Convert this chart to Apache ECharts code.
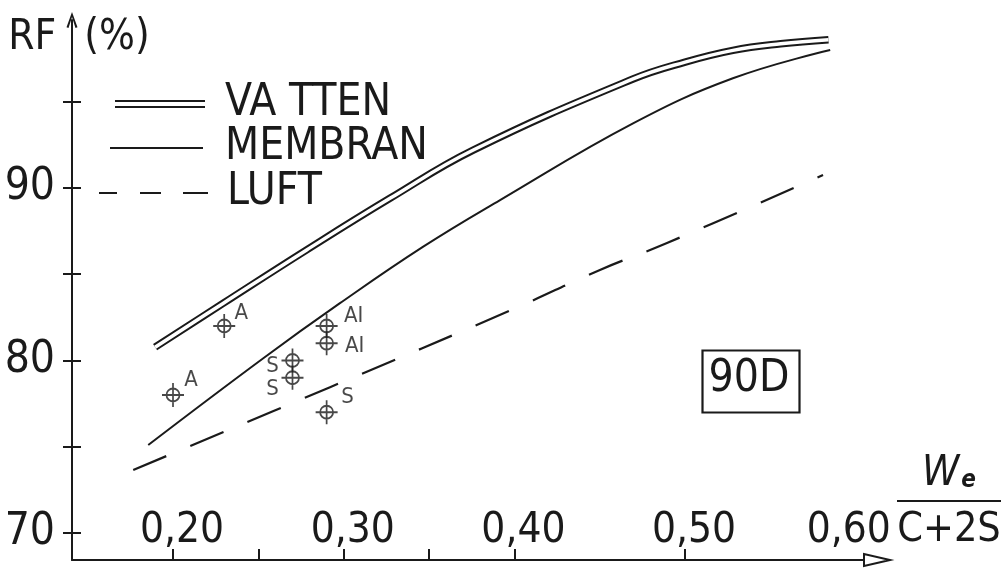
<!DOCTYPE html>
<html>
<head>
<meta charset="utf-8">
<script src="https://cdn.jsdelivr.net/npm/echarts@6.0.0/dist/echarts.min.js"></script>
<style>
html,body{margin:0;padding:0;background:#fff;}
#chart{width:1007px;height:569px;}
</style>
</head>
<body>
<div id="chart"></div>
<script>
// ---- data ----
const vattenX = [0.1895, 0.2295, 0.2783, 0.3271, 0.3759, 0.4695, 0.500, 0.528, 0.556, 0.584];
const vattenY = [80.77, 83.32, 86.41, 89.40, 92.20, 96.32, 97.30, 97.98, 98.36, 98.60];

const membranX = [0.1855, 0.2529, 0.2978, 0.3466, 0.3916, 0.4695, 0.528, 0.585];
const membranY = [75.10, 80.13, 83.32, 86.60, 89.30, 93.75, 96.36, 98.00];

const luftX = [0.1767, 0.292, 0.3992, 0.4501, 0.4894, 0.5808];
const luftY = [73.65, 78.45, 82.97, 85.25, 86.81, 90.75];

const pointX = [0.20, 0.23, 0.29, 0.29, 0.27, 0.27, 0.29];
const pointY = [78, 82, 82, 81, 80, 79, 77];
const pointLabels = ['A', 'A', 'AI', 'AI', 'S', 'S', 'S'];

const xTickValues = [0.20, 0.25, 0.30, 0.35, 0.40, 0.50];
const xLabelValues = [0.20, 0.30, 0.40, 0.50, 0.60];
const yTickValues = [70, 75, 80, 85, 90, 95];
const yLabelValues = [70, 80, 90];

const seriesNames = ['VA TTEN', 'MEMBRAN', 'LUFT'];
const boxText = '90D';

// ---- styling / layout ----
const FONT = "'DejaVu Sans Condensed','Liberation Sans Narrow','Liberation Sans',sans-serif";
const INK = '#1a1a1a';
const labelOffsets = [[18, -15], [17, -13], [27, -10], [28, 3], [-20, 6], [-20, 12], [21, -15]];

const zip = (xs, ys) => xs.map((x, i) => [x, ys[i]]);

const X_MIN = 0.14083, X_MAX = 0.61242;
const Y_MIN = 68.43, Y_MAX = 99.74;

const markerPath = 'path://M-11,0H11M0,-12V12M6.5,0A6.5,6.5,0,1,1,-6.5,0A6.5,6.5,0,1,1,6.5,0Z';
const chevron = 'path://M0,14L5,0L10,14L8.2,14.6L5,4.6L1.8,14.6Z';

const yAxisBase = {
  type: 'value', min: Y_MIN, max: Y_MAX, position: 'left', offset: 0,
  splitLine: { show: false }
};

const chart = echarts.init(document.getElementById('chart'), null, { renderer: 'canvas' });

const lineCommon = { smooth: 0.42, showSymbol: false, symbol: 'none', silent: true };

const option = {
  backgroundColor: '#ffffff',
  animation: false,
  grid: { left: 72, right: 130, top: 20, bottom: 9, containLabel: false, outerBoundsMode: 'none' },
  xAxis: {
    type: 'value', min: X_MIN, max: X_MAX,
    splitLine: { show: false },
    axisLine: {
      onZero: false,
      lineStyle: { color: INK, width: 2 },
      symbol: ['none', 'emptyTriangle'],
      symbolSize: [12, 26]
    },
    axisTick: { show: true, inside: true, length: 11, customValues: xTickValues, lineStyle: { color: INK, width: 2 } },
    axisLabel: {
      show: true, inside: true, margin: 9, customValues: xLabelValues,
      formatter: function (v) {
        const s = v.toFixed(2).replace('.', ',');
        return Math.abs(v - 0.6) < 1e-6 ? '{e|' + s + '}' : '{n|' + s + '}';
      },
      rich: {
        n: { fontFamily: FONT, fontSize: 42, color: INK, lineHeight: 40, padding: [0, 0, 0, 18] },
        e: { fontFamily: FONT, fontSize: 42, color: INK, lineHeight: 40, padding: [0, 14, 0, 0] }
      }
    },
    name: '{w|W}{e|e}\n{bar|}\n{c|C+2S}',
    nameLocation: 'end',
    nameGap: 20,
    nameMoveOverlap: false,
    nameTextStyle: {
      align: 'left', verticalAlign: 'bottom', padding: [0, 0, 8, 0],
      rich: {
        w: { fontFamily: FONT, fontSize: 42, fontStyle: 'italic', color: INK, lineHeight: 40, align: 'center' },
        e: { fontFamily: FONT, fontSize: 24, fontStyle: 'italic', fontWeight: 'bold', color: INK, lineHeight: 40, align: 'center', padding: [14, 0, 0, 2] },
        bar: { width: 104, height: 2, backgroundColor: INK, lineHeight: 14, align: 'center' },
        c: { fontFamily: FONT, fontSize: 41, color: INK, lineHeight: 44, align: 'center' }
      }
    }
  },
  yAxis: [
    Object.assign({}, yAxisBase, {
      axisLine: {
        onZero: false,
        lineStyle: { color: INK, width: 2 },
        symbol: ['none', chevron],
        symbolSize: [11, 16]
      },
      axisTick: { show: true, inside: false, length: 9, customValues: yTickValues, lineStyle: { color: INK, width: 2 } },
      axisLabel: {
        show: true, margin: 17, customValues: yLabelValues,
        fontFamily: FONT, fontSize: 44, color: INK, lineHeight: 44,
        formatter: v => String(Math.round(v))
      },
      name: '{rf|RF}{gap|}{pc|(%)}',
      nameLocation: 'end',
      nameGap: -18,
      nameMoveOverlap: false,
      nameTextStyle: {
        align: 'center', verticalAlign: 'middle', padding: [0, 0, 0, 14],
        rich: {
          rf: { fontFamily: FONT, fontSize: 42, color: INK },
          gap: { width: 28 },
          pc: { fontFamily: FONT, fontSize: 42, color: INK }
        }
      }
    }),
    Object.assign({}, yAxisBase, {
      axisLine: { show: false },
      axisTick: { show: true, inside: true, length: 9, customValues: yTickValues, lineStyle: { color: INK, width: 2 } },
      axisLabel: { show: false }
    })
  ],
  legend: [
    {
      left: 115, top: 82, padding: 0, selectedMode: false,
      itemWidth: 90, itemHeight: 8,
      data: [{ name: seriesNames[0], icon: 'path://M0,0H90V2H0ZM0,6H90V8H0Z' }],
      itemStyle: { borderWidth: 0 },
      textStyle: { fontFamily: FONT, fontSize: 44, color: INK, lineHeight: 44, padding: [0, 0, 0, 15] }
    },
    {
      left: 110, top: 126, padding: 0, selectedMode: false,
      itemWidth: 93, itemHeight: 2,
      data: [{ name: seriesNames[1], icon: 'rect' }],
      itemStyle: { borderWidth: 0 },
      textStyle: { fontFamily: FONT, fontSize: 44, color: INK, lineHeight: 44, padding: [0, 0, 0, 17] }
    },
    {
      left: 99, top: 171, padding: 0, selectedMode: false,
      itemWidth: 109, itemHeight: 2,
      data: [{ name: seriesNames[2], icon: 'path://M0,0h18v2h-18zM41,0h21v2h-21zM84,0h25v2h-25z' }],
      itemStyle: { borderWidth: 0 },
      textStyle: { fontFamily: FONT, fontSize: 44, color: INK, lineHeight: 44, padding: [0, 0, 0, 14] }
    }
  ],
  graphic: [
    { type: 'rect', left: 700, top: 348, shape: { width: 97, height: 62 }, style: { fill: 'none', stroke: INK, lineWidth: 2.2 } },
    { type: 'text', x: 749, y: 380, style: { text: boxText, font: '44px ' + FONT, fill: INK, align: 'center', verticalAlign: 'middle' } }
  ],
  series: [
    Object.assign({
      name: seriesNames[0], type: 'line', data: zip(vattenX, vattenY),
      color: INK, lineStyle: { color: INK, width: 7.5 }, z: 2
    }, lineCommon),
    Object.assign({
      name: 'VA TTEN inner', type: 'line', data: zip(vattenX, vattenY),
      color: '#ffffff', lineStyle: { color: '#ffffff', width: 3.5 }, z: 3
    }, lineCommon),
    Object.assign({
      name: seriesNames[1], type: 'line', data: zip(membranX, membranY),
      color: INK, lineStyle: { color: INK, width: 2 }, z: 2
    }, lineCommon),
    Object.assign({
      name: seriesNames[2], type: 'line', data: zip(luftX, luftY),
      color: INK, lineStyle: { color: INK, width: 2.2, type: [36, 26] }, z: 2
    }, lineCommon),
    {
      name: 'Mätpunkter', type: 'scatter',
      data: pointX.map((x, i) => ({
        value: [x, pointY[i]],
        label: { offset: labelOffsets[i] }
      })),
      symbol: markerPath, symbolSize: [22, 24],
      itemStyle: { color: 'rgba(0,0,0,0)', borderColor: INK, borderWidth: 1.8 },
      label: {
        show: true, position: 'inside', align: 'center', verticalAlign: 'middle',
        fontFamily: FONT, fontSize: 22, color: INK,
        formatter: p => pointLabels[p.dataIndex]
      },
      z: 4, silent: true
    }
  ]
};

chart.setOption(option);
</script>
</body>
</html>
